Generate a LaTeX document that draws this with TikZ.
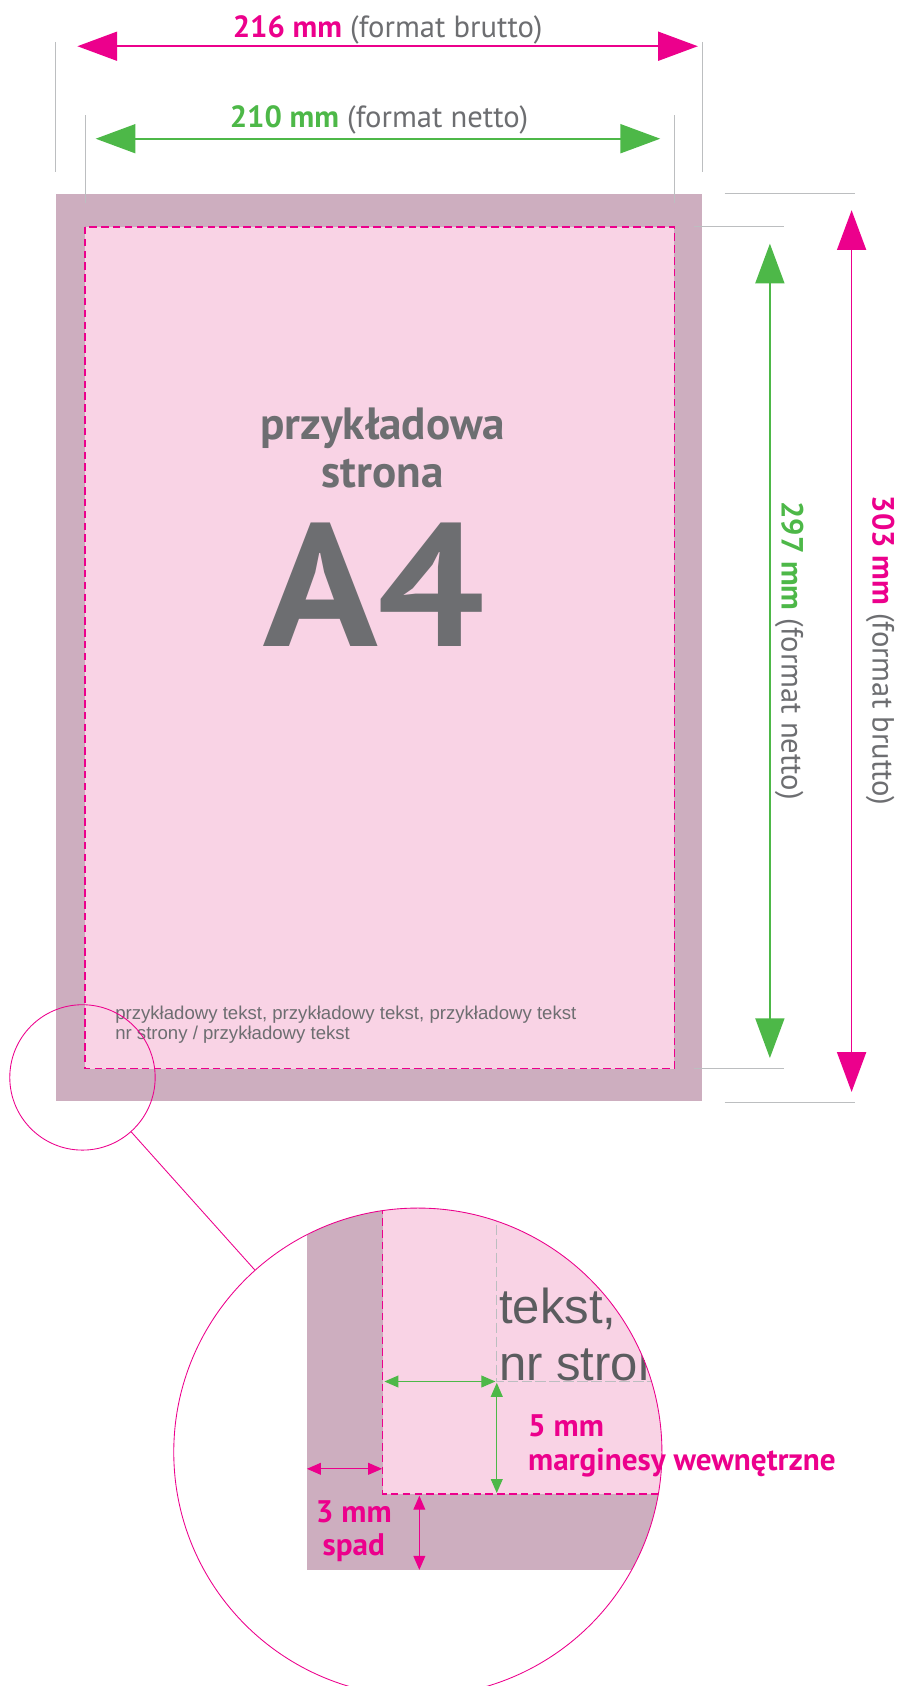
\documentclass[tikz,border=0pt]{standalone}
\usepackage{fontspec}
\setmainfont{PT Sans}
\newfontfamily\arialfont{Liberation Sans}
\usetikzlibrary{arrows.meta}
\definecolor{spad}{HTML}{CDAEBF}
\definecolor{netto}{HTML}{F9D3E5}
\definecolor{mag}{HTML}{EC008C}
\definecolor{zielony}{HTML}{4DB848}
\definecolor{szary}{HTML}{6D6E71}
\definecolor{ciemny}{HTML}{5B5C5F}
\definecolor{linia}{HTML}{BCBEC0}

\begin{document}
\begin{tikzpicture}[x=1pt,y=-1pt,
	wymiar/.style={line width=1.6pt,{Triangle[length=37pt,width=27pt]}-{Triangle[length=37pt,width=27pt]}},
	maly/.style={line width=1.1pt,{Triangle[length=13pt,width=11pt]}-{Triangle[length=13pt,width=11pt]}},
	pomocnicza/.style={linia,line width=0.8pt},
	ciecie/.style={mag,line width=1.2pt,dash pattern=on 7pt off 4pt},
	etykieta/.style={font=\fontsize{28.5}{34}\selectfont,text=szary,inner sep=0pt},
	opis/.style={font=\fontsize{29}{34}\selectfont\bfseries,text=mag,inner sep=0pt}]
	\useasboundingbox (0,0) rectangle (835,1568);
	\coordinate (b1) at (52,180);
	\coordinate (b2) at (653,1024);
	\coordinate (n1) at (79,211);
	\coordinate (n2) at (627,994);
	\coordinate (lupa1) at (76.7,1002);
	\coordinate (lupa2) at (388.6,1350.5);
	% Strona
	\fill[spad] (b1) rectangle (b2);
	\fill[netto] (n1) rectangle (n2);
	\draw[ciecie] (n1) rectangle (n2);
	\node[font=\fontsize{42}{48}\selectfont\bfseries,text=szary,anchor=base] (tytul) at (356,409) {przykładowa};
	\node[font=\fontsize{42}{48}\selectfont\bfseries,text=szary,anchor=base] (strona) at (356,453) {strona};
	\node[font=\fontsize{163}{163}\selectfont\bfseries,text=szary,anchor=base,inner sep=0pt,xscale=1.08,transform shape] (a4) at (348,601) {A4};
	\node[font=\arialfont\fontsize{17.3}{18}\selectfont,text=szary,anchor=base west,inner sep=0pt] (tekst1) at (107,948.5) {przykładowy tekst, przykładowy tekst, przykładowy tekst};
	\node[font=\arialfont\fontsize{17.3}{18}\selectfont,text=szary,anchor=base west,inner sep=0pt] (tekst2) at (107,967) {nr strony / przykładowy tekst};
	% Linie pomocnicze
	\draw[pomocnicza] (52,39) -- (52,160);
	\draw[pomocnicza] (653,39) -- (653,160);
	\draw[pomocnicza] (79,107) -- (79,189);
	\draw[pomocnicza] (627,107) -- (627,189);
	\draw[pomocnicza] (674,180) -- (795,180);
	\draw[pomocnicza] (674,1025) -- (795,1025);
	\draw[pomocnicza] (645,211) -- (729,211);
	\draw[pomocnicza] (645,994) -- (729,994);
	% Wymiary
	\coordinate (gL) at (72,43);
	\coordinate (gR) at (649,43);
	\coordinate (zL) at (89,129);
	\coordinate (zR) at (614,129);
	\coordinate (zG) at (716,226.6);
	\coordinate (zD) at (716,984);
	\coordinate (gG) at (792,195.5);
	\coordinate (gD) at (792,1015.5);
	\draw[wymiar,mag] (gL) -- (gR);
	\draw[wymiar,zielony] (zL) -- (zR);
	\draw[wymiar,zielony] (zG) -- (zD);
	\draw[wymiar,mag] (gG) -- (gD);
	\node[etykieta,anchor=base] (brutto) at (360.5,35) {\textcolor{mag}{\bfseries 216 mm} (format brutto)};
	\node[etykieta,anchor=base] (netto) at (352.5,119) {\textcolor{zielony}{\bfseries 210 mm} (format netto)};
	\node[etykieta,anchor=base,rotate=-90] (netto2) at (727,605) {\textcolor{zielony}{\bfseries 297 mm} (format netto)};
	\node[etykieta,anchor=base,rotate=-90] (brutto2) at (811.5,605) {\textcolor{mag}{\bfseries 303 mm} (format brutto)};
	% Powiekszenie
	\begin{scope}
		\clip (lupa2) circle[radius=227];
		\fill[spad] (285.4,1100) rectangle (700,1460.5);
		\fill[netto] (356,1100) rectangle (700,1389.5);
		\draw[ciecie] (356,1100) -- (356,1389.5) -- (700,1389.5);
		\draw[linia,line width=1pt,dash pattern=on 10pt off 3pt] (462,1100) -- (462,1285) -- (700,1285);
		\node[font=\arialfont\fontsize{45.6}{54}\selectfont,text=ciemny,anchor=base west,inner sep=0pt] (duzy1) at (464,1230.5) {tekst,};
		\node[font=\arialfont\fontsize{45.6}{54}\selectfont,text=ciemny,anchor=base west,inner sep=0pt] (duzy2) at (464,1284) {nr strony};
	\end{scope}
	\coordinate (mL) at (357.5,1284.8);
	\coordinate (mR) at (460.7,1284.8);
	\coordinate (mG) at (462,1286);
	\coordinate (mD) at (462,1388.5);
	\coordinate (sL) at (285.4,1366);
	\coordinate (sR) at (355.4,1366);
	\coordinate (sG) at (390,1391);
	\coordinate (sD) at (390,1460);
	\draw[maly,zielony] (mL) -- (mR);
	\draw[maly,zielony] (mG) -- (mD);
	\draw[maly,mag] (sL) -- (sR);
	\draw[maly,mag] (sG) -- (sD);
	\node[opis,anchor=base west] (piec) at (491,1336) {5 mm};
	\node[opis,anchor=base west] (margines) at (491,1367.6) {marginesy wewnętrzne};
	\node[opis,anchor=base] (trzy) at (329,1416) {3 mm};
	\node[opis,anchor=base] (spadtxt) at (329,1446.6) {spad};
	\node[circle,draw=mag,line width=0.8pt,minimum size=135.2pt,inner sep=0pt] (lupa) at (lupa1) {};
	\node[circle,draw=mag,line width=0.8pt,minimum size=454pt,inner sep=0pt] (powiekszenie) at (lupa2) {};
	\draw[mag,line width=0.8pt] (lupa) -- (powiekszenie);
\end{tikzpicture}
\end{document}
